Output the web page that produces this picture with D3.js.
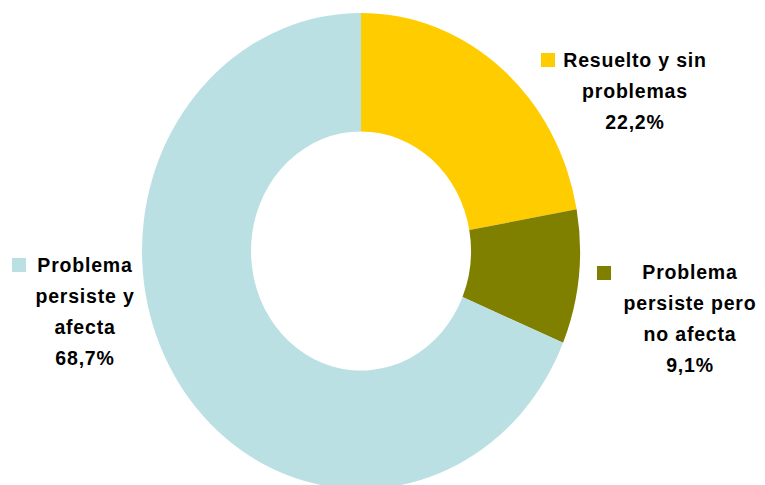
<!DOCTYPE html>
<meta charset="utf-8">
<script src="https://d3js.org/d3.v7.min.js"></script>
<style>
  body { margin: 0; background: #fff; }
  text { font-family: "Liberation Sans", Arial, sans-serif; font-weight: bold; fill: #000; }
</style>
<div id="my_dataviz"></div>
<script>

// data
var categories = ["Resuelto y sin problemas", "Problema persiste pero no afecta", "Problema persiste y afecta"];
var values = [22.2, 9.1, 68.7];
var labelLines = [
  ["Resuelto y sin", "problemas"],
  ["Problema", "persiste pero", "no afecta"],
  ["Problema", "persiste y", "afecta"]
];
var colors = ["#FFCC00", "#808000", "#BBE0E3"];

var width = 765, height = 485;
var cx = 361, cy = 251, outerR = 219, innerR = 110, yStretch = 1.087;

var svg = d3.select("#my_dataviz")
  .append("svg")
    .attr("width", width)
    .attr("height", height);

var color = d3.scaleOrdinal().domain(categories).range(colors);

var pie = d3.pie().sort(null).value(function(d, i) { return values[i]; });
var arc = d3.arc().innerRadius(innerR).outerRadius(outerR);

var g = svg.append("g")
  .attr("transform", "translate(" + cx + "," + cy + ") scale(1," + yStretch + ")");

g.selectAll("slices")
  .data(pie(categories))
  .enter()
  .append("path")
    .attr("d", arc)
    .attr("fill", function(d) { return color(d.data); });

// labels (position of each label block: square x/y, text centre x, first baseline)
var labelPos = [
  {sx: 541, sy: 53, tx: 635, ty: 67},
  {sx: 597, sy: 266, tx: 690, ty: 279},
  {sx: 12, sy: 258, tx: 85, ty: 272}
];
var lineH = 31;

categories.forEach(function(c, i) {
  var p = labelPos[i];
  svg.append("rect")
    .attr("x", p.sx).attr("y", p.sy)
    .attr("width", 14).attr("height", 14)
    .attr("fill", color(c));
  var lines = labelLines[i].concat([d3.format(".1f")(values[i]).replace(".", ",") + "%"]);
  lines.forEach(function(t, j) {
    svg.append("text")
      .attr("x", p.tx)
      .attr("y", p.ty + j * lineH)
      .attr("text-anchor", "middle")
      .style("font-size", "19.5px")
      .style("letter-spacing", "0.8px")
      .text(t);
  });
});

</script>
